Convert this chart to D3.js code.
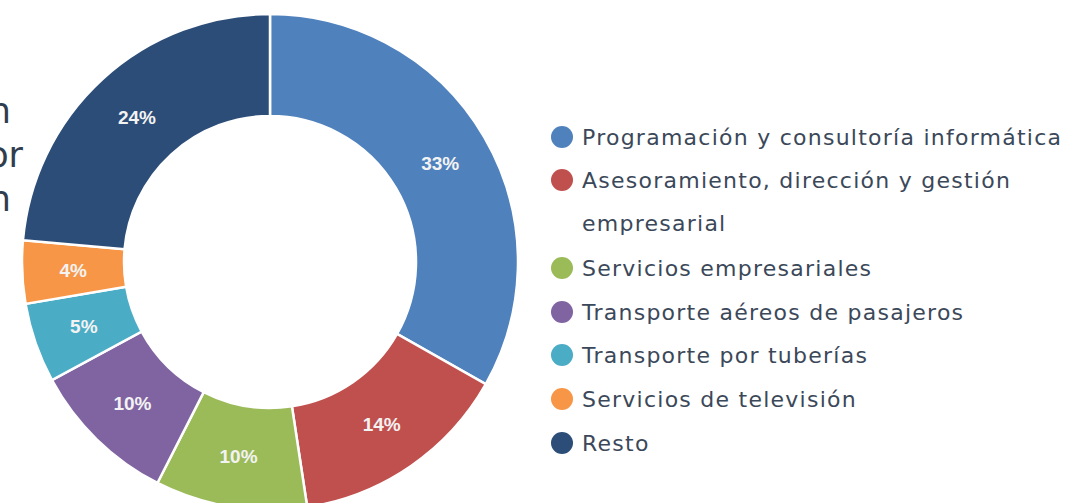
<!DOCTYPE html>
<html>
<head>
<meta charset="utf-8">
<script src="https://cdn.jsdelivr.net/npm/d3@7"></script>
<style>
  body { margin: 0; background: #fff; overflow: hidden; }
</style>
</head>
<body>
<div id="chart"></div>
<script>
const width = 1069, height = 503;

// sectores y cuotas (%), en orden horario desde arriba
const sectors = [
    "Programación y consultoría informática",
    "Asesoramiento, dirección y gestión empresarial",
    "Servicios empresariales",
    "Transporte aéreos de pasajeros",
    "Transporte por tuberías",
    "Servicios de televisión",
    "Resto"
];
const shares = [33.2, 14.4, 9.9, 9.6, 5.2, 4.1, 23.6];
const colors = ["#4f81bd", "#c0504d", "#9bbb59", "#8064a2", "#4bacc6", "#f79646", "#2c4d78"];

// legend lines (the long one wraps)
const legendLines = [
    ["Programación y consultoría informática"],
    ["Asesoramiento, dirección y gestión", "empresarial"],
    ["Servicios empresariales"],
    ["Transporte aéreos de pasajeros"],
    ["Transporte por tuberías"],
    ["Servicios de televisión"],
    ["Resto"]
];

// title, cut off at the left edge
const titleLines = ["Distribución de la inversión", "extranjera por sector", "de actividad en la región"];

const cx = 270, cy = 262, outerR = 248, innerR = 146;

const svg = d3.select("#chart").append("svg")
    .attr("width", width)
    .attr("height", height);

const title = svg.append("g")
title.selectAll("text")
    .data(titleLines)
    .enter()
    .append("text")
    .attr("x", (d, i) => i == 1 ? 23 : 11)
    .attr("y", (d, i) => 123 + i * 44)
    .attr("text-anchor", "end")
    .attr("font-family", "'DejaVu Sans', sans-serif")
    .attr("font-size", 35)
    .attr("fill", "#2f3d4e")
    .text(d => d);

const pie = d3.pie().sort(null).value(d => d);
const arc = d3.arc().innerRadius(innerR).outerRadius(outerR);
const fmt = d3.format(".0%");

const donut = svg.append("g")
    .attr("transform", `translate(${cx},${cy})`);

const arcs = pie(shares);

donut.selectAll("path")
    .data(arcs)
    .enter()
    .append("path")
    .attr("d", arc)
    .attr("fill", (d, i) => colors[i])
    .attr("stroke", "#fff")
    .attr("stroke-width", 2.5);

donut.selectAll("text")
    .data(arcs)
    .enter()
    .append("text")
    .attr("transform", d => `translate(${arc.centroid(d)})`)
    .attr("text-anchor", "middle")
    .attr("dy", "0.36em")
    .attr("font-family", "'Liberation Sans', Arial, sans-serif")
    .attr("font-weight", "bold")
    .attr("font-size", 19)
    .attr("fill", "#f3f3f3")
    .text(d => fmt(Math.round(d.value) / 100));

// legend
const rowY = [137, 180, 268, 312, 355, 399, 443];
const legend = svg.append("g");

const items = legend.selectAll("g")
    .data(sectors)
    .enter()
    .append("g")
    .attr("transform", (d, i) => `translate(562,${rowY[i]})`);

items.append("circle")
    .attr("r", 11)
    .attr("fill", (d, i) => colors[i]);

items.append("text")
    .attr("x", 20)
    .attr("font-family", "'DejaVu Sans', sans-serif")
    .attr("font-size", 22)
    .attr("letter-spacing", "1.25px")
    .attr("fill", "#3b4859")
    .selectAll("tspan")
    .data((d, i) => legendLines[i])
    .enter()
    .append("tspan")
    .attr("x", 20)
    .attr("dy", (d, j) => j == 0 ? "0.36em" : 43)
    .text(d => d);
</script>
</body>
</html>
